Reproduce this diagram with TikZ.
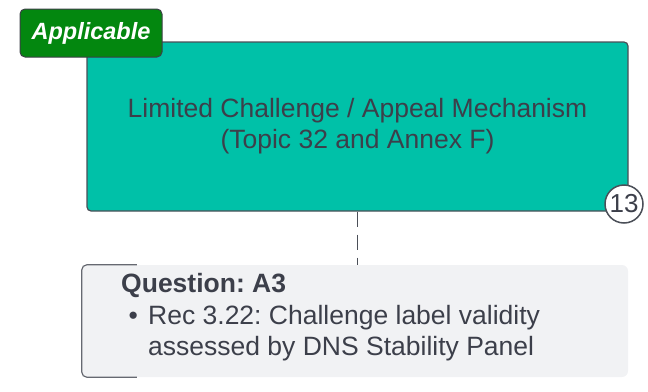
\documentclass[tikz,border=0pt]{standalone}
\usepackage{fontspec}
\setmainfont{Liberation Sans}
\usepackage{tikz}
\definecolor{teal1}{HTML}{00C1A8}
\definecolor{green1}{HTML}{03870F}
\definecolor{ink}{HTML}{3C3F4A}
\definecolor{edge}{HTML}{4B4F58}
\definecolor{paper}{HTML}{F1F2F4}
\frenchspacing

\begin{document}
\begin{tikzpicture}[x=1pt,y=-1pt,
  mainbox/.style={draw=edge, line width=1.2pt, fill=teal1, rounded corners=4pt,
                  minimum width=541pt, minimum height=169pt, align=center,
                  text=ink, font=\fontsize{26.5}{31}\selectfont},
  tagbox/.style ={draw=edge!80!black, line width=1pt, fill=green1, rounded corners=5pt,
                  minimum width=142pt, minimum height=48pt, text=white,
                  font=\fontsize{23.5}{28}\selectfont\bfseries\itshape},
  badge/.style  ={circle, draw=edge, line width=1.5pt, fill=white, minimum size=38pt,
                  inner sep=0pt, text=ink, font=\fontsize{26}{28}\selectfont},
  qbox/.style   ={fill=paper, rounded corners=6pt, minimum width=546pt, minimum height=112pt},
  qtext/.style  ={anchor=base west, inner sep=0pt, text=ink, font=\fontsize{26.5}{31}\selectfont},
  link/.style   ={draw=edge, line width=1.2pt, dash pattern=on 15pt off 8pt}]
  \useasboundingbox (0,0) rectangle (648,391);
  \node[mainbox] (limited) at (357.5,126.5) {Limited Challenge / Appeal Mechanism\\(Topic 32 and Annex F)};
  \node[tagbox ] (applicable) at (91,33) {Applicable};
  \node[badge  ] (num) at (624,204) {13};
  \node[qbox   ] (qa3) at (355,321) {};
  \draw[edge!85!white, line width=1.2pt, rounded corners=5pt]
    ([xshift=55pt]qa3.north west) -- (qa3.north west) -- (qa3.south west) -- ([xshift=55pt]qa3.south west);
  \node[qtext, font=\fontsize{26.5}{31}\selectfont\bfseries] (qtitle) at (121,292) {Question: A3};
  % base of a two-line node sits on its last line
  \node[qtext, align=left] (qbody) at (148,355) {Rec 3.22: Challenge label validity\\assessed by DNS Stability Panel};
  \node[qtext] (qbullet) at (128.5,324) {\textbullet};
  \draw[link] (limited.south) -- (limited.south |- qa3.north);
\end{tikzpicture}
\end{document}
